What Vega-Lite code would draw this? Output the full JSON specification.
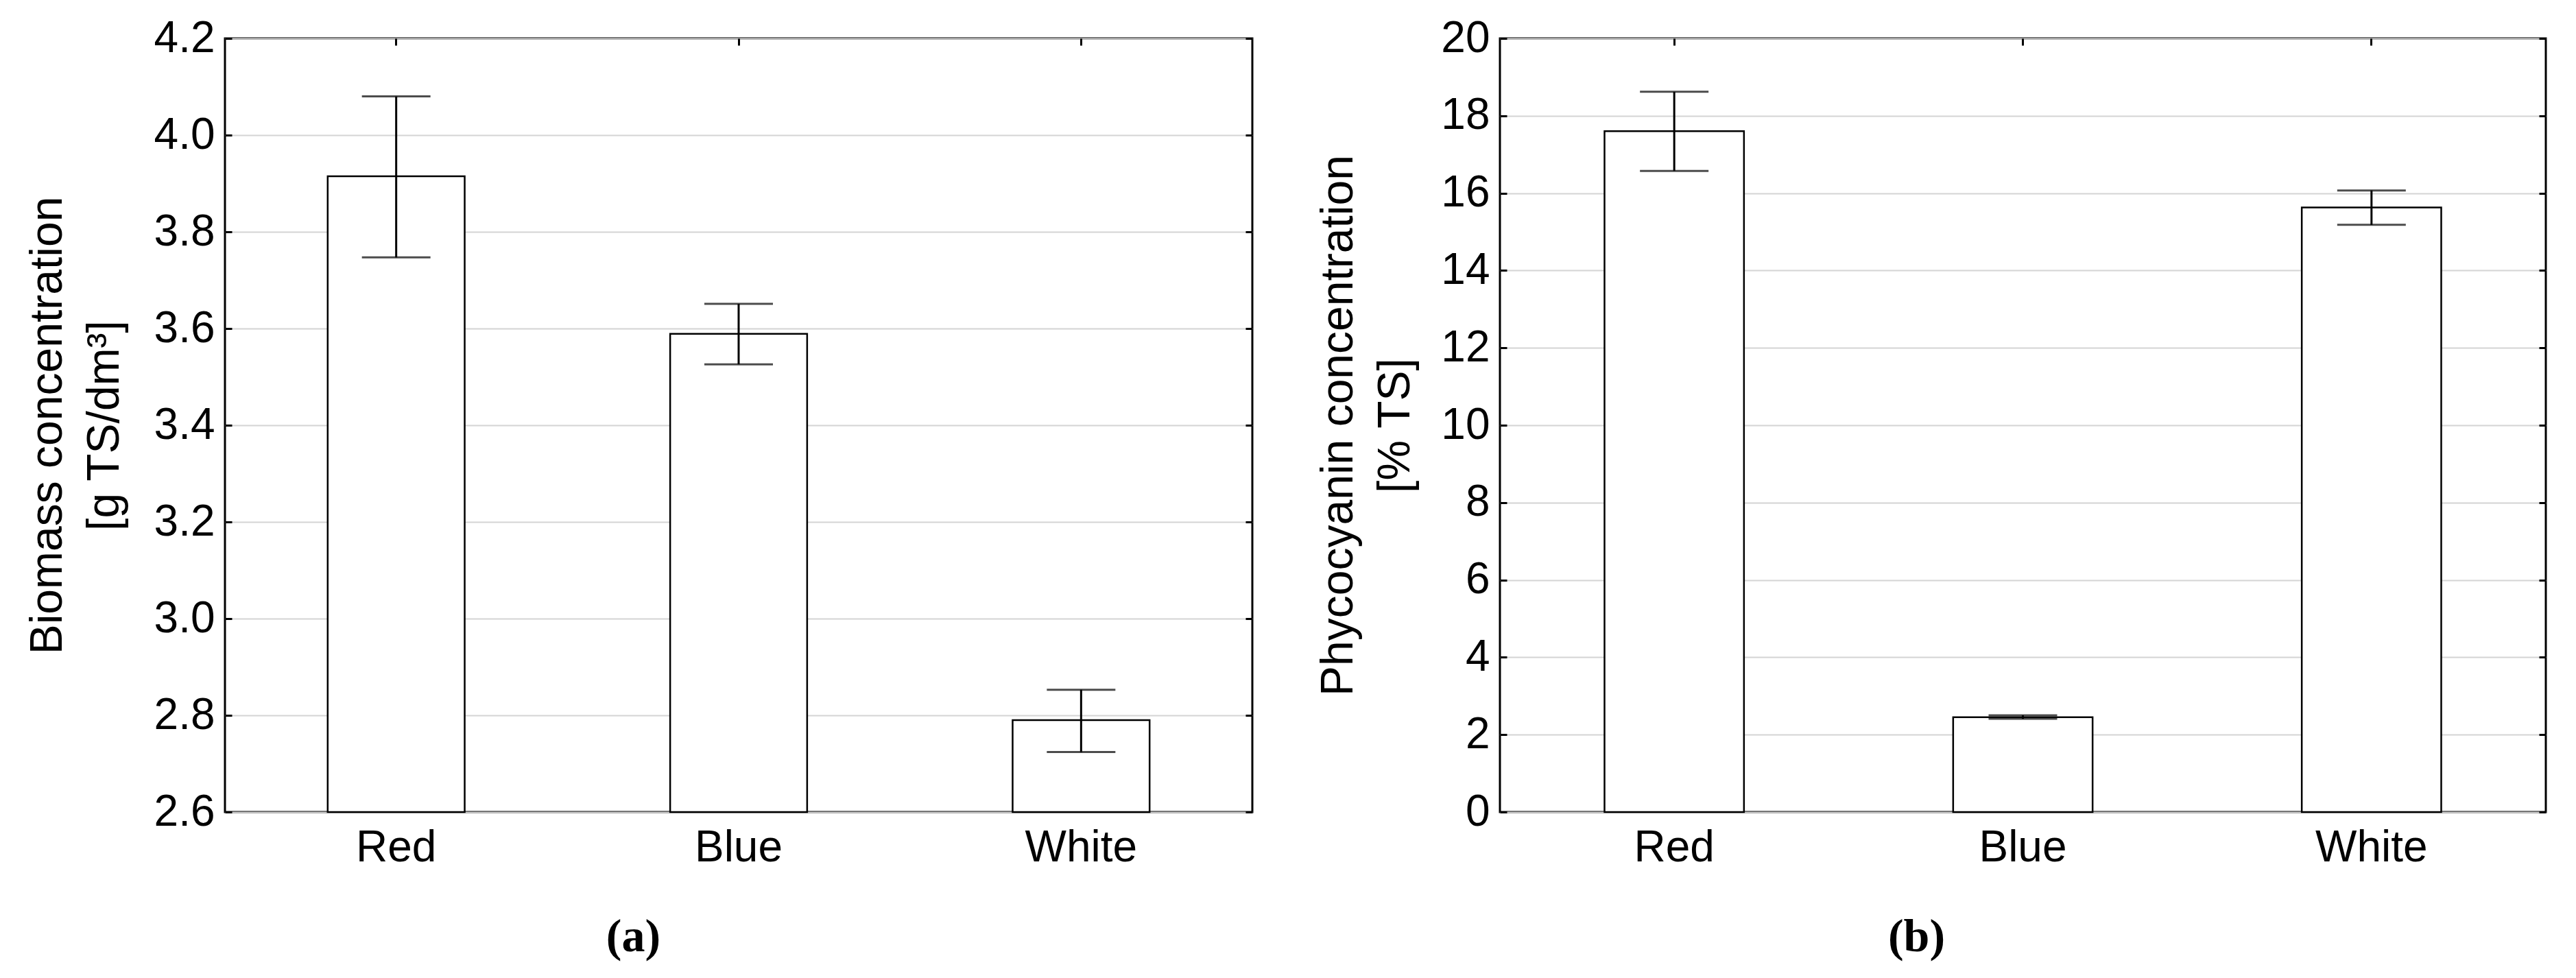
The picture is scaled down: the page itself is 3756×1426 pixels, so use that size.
{
  "$schema": "https://vega.github.io/schema/vega-lite/v6.json",
  "background": "white",
  "padding": {"left": 34, "top": 22, "right": 0, "bottom": 0},
  "spacing": 87,
  "config": {
    "view": {"stroke": "black", "strokeWidth": 3},
    "font": "Liberation Sans",
    "axis": {
      "labelFont": "Liberation Sans",
      "labelFontSize": 64,
      "labelColor": "black",
      "titleFont": "Liberation Sans",
      "titleFontSize": 66,
      "titleFontWeight": "normal",
      "titleColor": "black",
      "titleLineHeight": 83,
      "domain": false,
      "tickColor": "black",
      "tickWidth": 3,
      "tickSize": -10,
      "gridColor": "#d4d4d4",
      "gridWidth": 2
    }
  },
  "hconcat": [
    {
      "width": 1498,
      "height": 1128,
      "data": {"values": [
        {"light": "Red", "mean": 3.915, "lo": 3.747, "hi": 4.08},
        {"light": "Blue", "mean": 3.589, "lo": 3.526, "hi": 3.651},
        {"light": "White", "mean": 2.79, "lo": 2.724, "hi": 2.853}
      ]},
      "layer": [
        {
          "mark": {"type": "bar", "fill": "white", "stroke": "black", "strokeWidth": 2.5},
          "encoding": {
            "x": {"field": "light", "type": "nominal", "sort": ["Red", "Blue", "White"],
              "scale": {"paddingInner": 0.6, "paddingOuter": 0.3},
              "axis": {"orient": "bottom", "labelAngle": 0, "labelPadding": 30, "grid": false,
                "title": "(a)", "titleFont": "Liberation Serif", "titleFontWeight": "bold", "titleFontSize": 68,
                "titleX": 595, "titleY": 202, "titleBaseline": "alphabetic", "titleAlign": "center"}},
            "y": {"field": "mean", "type": "quantitative",
              "scale": {"domain": [2.6, 4.2], "nice": false, "zero": false},
              "axis": {"orient": "left", "values": [2.6, 2.8, 3.0, 3.2, 3.4, 3.6, 3.8, 4.0, 4.2], "format": ".1f",
                "grid": true, "labelPadding": 25,
                "title": ["Biomass concentration", "[g TS/dm³]"],
                "titleX": -239, "titleY": 564, "titleBaseline": "alphabetic", "titleAlign": "center", "titleAngle": -90}},
            "y2": {"datum": 2.6}
          }
        },
        {
          "mark": {"type": "rule", "strokeWidth": 3, "color": "black"},
          "encoding": {
            "x": {"field": "light", "type": "nominal", "sort": ["Red", "Blue", "White"],
              "axis": {"orient": "top", "labels": false, "title": null, "grid": false}},
            "y": {"field": "lo", "type": "quantitative",
              "axis": {"orient": "right", "labels": false, "title": null, "grid": false,
                "values": [2.6, 2.8, 3.0, 3.2, 3.4, 3.6, 3.8, 4.0, 4.2]}},
            "y2": {"field": "hi"}
          }
        },
        {
          "mark": {"type": "tick", "size": 100, "thickness": 3, "color": "black"},
          "encoding": {
            "x": {"field": "light", "type": "nominal", "sort": ["Red", "Blue", "White"], "axis": null},
            "y": {"field": "hi", "type": "quantitative", "axis": null}
          }
        },
        {
          "mark": {"type": "tick", "size": 100, "thickness": 3, "color": "black"},
          "encoding": {
            "x": {"field": "light", "type": "nominal", "sort": ["Red", "Blue", "White"], "axis": null},
            "y": {"field": "lo", "type": "quantitative", "axis": null}
          }
        }
      ],
      "resolve": {"axis": {"x": "independent", "y": "independent"}}
    },
    {
      "width": 1525,
      "height": 1128,
      "data": {"values": [
        {"light": "Red", "mean": 17.6, "lo": 16.575, "hi": 18.62},
        {"light": "Blue", "mean": 2.45, "lo": 2.41, "hi": 2.5},
        {"light": "White", "mean": 15.63, "lo": 15.18, "hi": 16.07}
      ]},
      "layer": [
        {
          "mark": {"type": "bar", "fill": "white", "stroke": "black", "strokeWidth": 2.5},
          "encoding": {
            "x": {"field": "light", "type": "nominal", "sort": ["Red", "Blue", "White"],
              "scale": {"paddingInner": 0.6, "paddingOuter": 0.3},
              "axis": {"orient": "bottom", "labelAngle": 0, "labelPadding": 30, "grid": false,
                "title": "(b)", "titleFont": "Liberation Serif", "titleFontWeight": "bold", "titleFontSize": 68,
                "titleX": 607, "titleY": 202, "titleBaseline": "alphabetic", "titleAlign": "center"}},
            "y": {"field": "mean", "type": "quantitative",
              "scale": {"domain": [0, 20], "nice": false},
              "axis": {"orient": "left", "values": [0, 2, 4, 6, 8, 10, 12, 14, 16, 18, 20], "format": "d",
                "grid": true, "labelPadding": 25,
                "title": ["Phycocyanin concentration", "[% TS]"],
                "titleX": -216, "titleY": 564, "titleBaseline": "alphabetic", "titleAlign": "center", "titleAngle": -90}},
            "y2": {"datum": 0}
          }
        },
        {
          "mark": {"type": "rule", "strokeWidth": 3, "color": "black"},
          "encoding": {
            "x": {"field": "light", "type": "nominal", "sort": ["Red", "Blue", "White"],
              "axis": {"orient": "top", "labels": false, "title": null, "grid": false}},
            "y": {"field": "lo", "type": "quantitative",
              "axis": {"orient": "right", "labels": false, "title": null, "grid": false,
                "values": [0, 2, 4, 6, 8, 10, 12, 14, 16, 18, 20]}},
            "y2": {"field": "hi"}
          }
        },
        {
          "mark": {"type": "tick", "size": 100, "thickness": 3, "color": "black"},
          "encoding": {
            "x": {"field": "light", "type": "nominal", "sort": ["Red", "Blue", "White"], "axis": null},
            "y": {"field": "hi", "type": "quantitative", "axis": null}
          }
        },
        {
          "mark": {"type": "tick", "size": 100, "thickness": 3, "color": "black"},
          "encoding": {
            "x": {"field": "light", "type": "nominal", "sort": ["Red", "Blue", "White"], "axis": null},
            "y": {"field": "lo", "type": "quantitative", "axis": null}
          }
        }
      ],
      "resolve": {"axis": {"x": "independent", "y": "independent"}}
    }
  ]
}
